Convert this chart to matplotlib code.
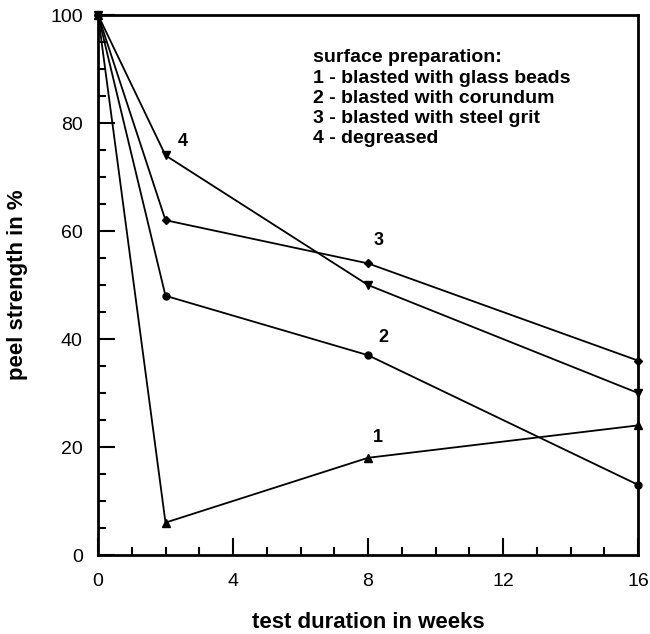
import matplotlib
matplotlib.use("Agg")
import matplotlib.pyplot as plt
from matplotlib.ticker import MultipleLocator

weeks = [0, 2, 8, 16]
s1 = [100, 6, 18, 24]
s2 = [100, 48, 37, 13]
s3 = [100, 62, 54, 36]
s4 = [100, 74, 50, 30]
series = [("1", s1, "^"), ("2", s2, "o"), ("3", s3, "D"), ("4", s4, "v")]
label_pos = {"1": (8.3, 21.7), "2": (8.45, 40.2), "3": (8.3, 58.2), "4": (2.5, 76.5)}
legend_lines = ["surface preparation:",
                "1 - blasted with glass beads",
                "2 - blasted with corundum",
                "3 - blasted with steel grit",
                "4 - degreased"]

plt.rcParams['font.family'] = ['Liberation Sans', 'DejaVu Sans']
fig = plt.figure(figsize=(6.5, 6.34), dpi=100)
ax = fig.add_axes([98/650, 1-555/634, 540/650, 540/634])

msizes = {"^": 6, "v": 6, "o": 5, "D": 4.5}
for name, ys, m in series:
    ax.plot(weeks, ys, color='black', lw=1.3, marker=m, ms=msizes[m], clip_on=False)
    lx, ly = label_pos[name]
    ax.text(lx, ly, name, fontsize=13, fontweight='bold', ha='center', va='center')

ax.set_xlim(0, 16)
ax.set_ylim(0, 100)
ax.xaxis.set_major_locator(MultipleLocator(4))
ax.xaxis.set_minor_locator(MultipleLocator(1))
ax.yaxis.set_major_locator(MultipleLocator(20))
ax.yaxis.set_minor_locator(MultipleLocator(5))
ax.tick_params(which='major', direction='in', length=12, width=1.5, labelsize=14)
ax.tick_params(axis='x', which='major', pad=13)
ax.tick_params(axis='y', which='major', pad=11)
ax.tick_params(which='minor', direction='in', length=6, width=1.5)
for sp in ax.spines.values():
    sp.set_linewidth(2)

ax.set_xlabel("test duration in weeks", fontsize=16, fontweight='bold', labelpad=16)
ax.set_ylabel("peel strength in %", fontsize=16, fontweight='bold', labelpad=16)

baselines = [62, 83, 103, 123, 143]
for t, b in zip(legend_lines, baselines):
    fig.text(313/650, 1-b/634, t, fontsize=14, fontweight='bold',
             ha='left', va='baseline')

fig.savefig("out.png", dpi=100)
